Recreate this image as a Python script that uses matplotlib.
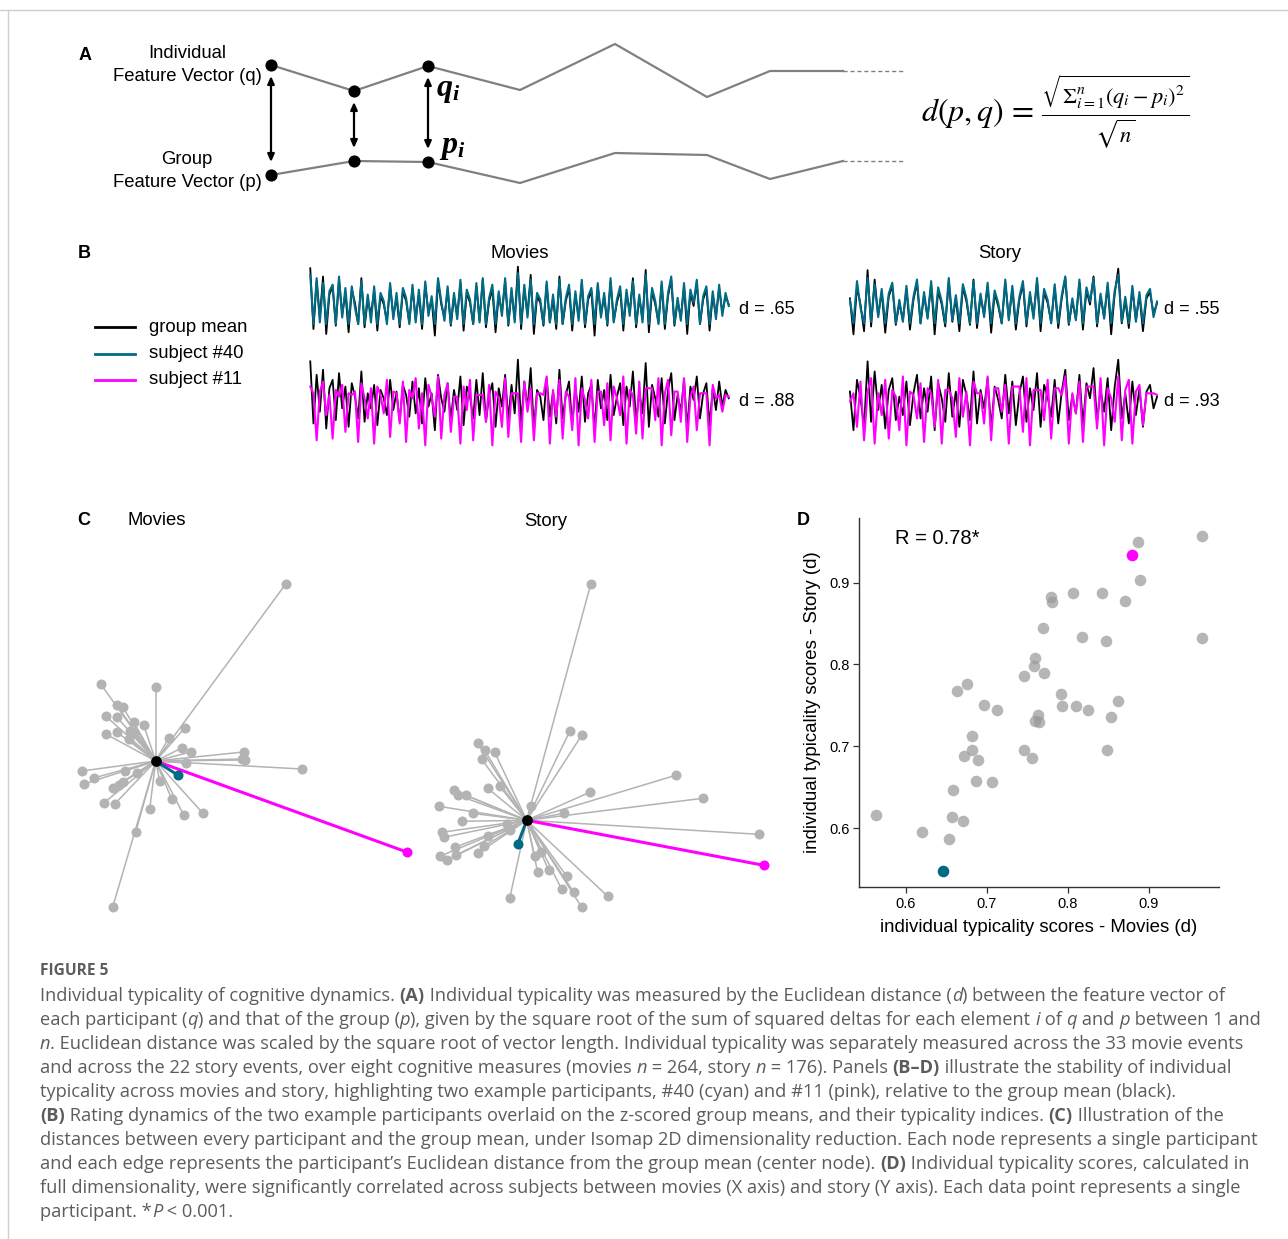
import numpy as np
import matplotlib
matplotlib.use('Agg')
import matplotlib.pyplot as plt
from matplotlib.lines import Line2D

# ---------------- DATA ----------------
# Panel A schematic feature vectors (element positions and values)
A_ELEM_X = [0.0, 8.3, 15.7, 24.9, 34.4, 43.6, 49.9, 57.2]
A_Q_VALS = [5.5, 2.9, 5.4, 3.0, 7.6, 2.3, 4.9, 4.9]
A_P_VALS = [-5.5, -4.1, -4.2, -6.3, -3.3, -3.5, -5.9, -4.1]
A_DASH_END = 63.2

# Panel B rating dynamics (z-scored)
GM_MOV = [2.4,-1.3,1.6,-0.6,1.9,-1.6,0.8,1.3,-1.1,1.7,-0.4,0.9,-1.5,1.1,0.3,-1.0,
          1.8,-1.2,0.5,-0.4,1.0,-1.4,0.7,0.2,-0.8,1.3,-0.5,0.6,-1.2,1.0,0.4,-0.9,
          1.2,-0.7,0.8,-1.3,1.4,-0.3,0.5,-1.7,1.6,0.2,-0.6,1.1,-1.1,0.7,-0.5,1.5,
          -1.4,0.9,0.3,-1.0,1.3,-0.8,1.7,-1.2,0.4,1.1,-1.5,0.8,-0.3,1.6,-1.1,1.0,
          -0.7,2.5,-1.3,1.2,-0.4,2.0,-1.6,0.7,0.3,-1.1,1.4,-0.9,0.6,-1.3,1.9,-1.0,
          0.4,1.2,-1.4,0.8,-0.6,1.5,-1.2,0.5,1.0,-1.7,1.3,-0.4,0.7,-1.1,1.6,-0.8,
          0.3,1.1,-1.4,0.9,-0.3,1.8,-1.2,0.6,-0.7,2.3,-1.5,1.0,0.2,-0.9,1.4,-1.3,
          0.7,1.7,-1.1,0.4,-0.6,1.3,-1.6,0.9,0.1,1.5,-1.0,0.5,1.1,-1.4,0.8,-0.5,
          1.2,-0.3,0.7,0.2]
S40_MOV = [2.0,-1.0,1.8,-0.9,1.5,-1.0,1.0,1.4,-1.0,1.9,-0.6,1.2,-1.0,1.3,0.0,-1.0,
           1.6,-1.0,0.8,-0.9,1.3,-1.0,0.9,0.4,-1.0,1.5,-0.7,0.9,-1.0,1.2,0.6,-1.0,
           1.4,-0.9,1.1,-1.0,1.6,-0.5,0.7,-1.0,1.8,0.4,-0.8,1.3,-1.0,0.9,-0.7,1.7,
           -1.0,1.1,0.5,-1.0,1.5,-0.9,1.8,-1.0,0.6,1.4,-1.0,1.0,-0.5,1.8,-1.0,1.2,
           -0.9,2.1,-1.0,1.4,-0.6,1.7,-1.0,0.9,0.5,-1.0,1.6,-0.9,0.8,-1.0,1.7,-1.0,
           0.6,1.4,-1.0,1.0,-0.8,1.7,-1.0,0.7,1.2,-1.0,1.5,-0.6,0.9,-1.0,1.8,-0.9,
           0.5,1.3,-1.0,1.1,-0.5,1.6,-1.0,0.8,-0.9,2.0,-1.0,1.2,0.4,-1.0,1.6,-1.0,
           0.9,1.9,-1.0,0.6,-0.8,1.5,-1.0,1.1,0.3,1.7,-1.0,0.7,1.3,-1.0,1.0,-0.7,
           1.4,-0.5,0.9,0.1]
S11_MOV = [0.9,0.5,-2.3,0.6,1.2,-0.8,0.4,-2.2,0.7,0.3,1.0,-1.8,0.5,0.4,0.6,-2.4,
           1.1,0.2,-1.0,0.8,-2.5,0.9,0.4,-0.7,1.3,-2.1,0.6,0.5,-1.3,1.2,-2.4,0.7,
           0.2,1.4,-1.6,0.5,-2.6,1.0,0.3,-0.9,1.5,-2.2,0.4,1.1,-1.8,0.3,0.3,-2.5,
           0.9,-0.5,1.3,-2.3,0.4,0.4,0.4,-1.2,1.0,-2.6,0.6,0.2,-1.5,1.4,-2.1,0.5,
           0.5,0.5,-2.4,1.2,-0.6,0.8,-2.3,0.5,0.5,0.4,1.5,-2.5,0.7,-0.9,1.3,-2.2,
           0.6,0.3,-1.7,1.4,-2.6,0.8,0.1,-1.0,1.3,-2.4,0.6,0.6,-1.4,1.1,-2.3,0.9,
           0.2,-0.8,1.5,-2.5,0.7,0.4,-1.9,1.2,-2.2,0.8,0.8,0.8,-1.1,1.4,-2.6,0.5,
           1.3,-2.0,0.6,0.6,-1.2,1.4,-2.4,0.3,0.9,-1.7,0.5,0.5,0.5,-2.6,1.0,0.2,
           0.4,-0.6,0.4,0.3]
GM_STO = [0.6,-1.7,1.3,0.2,-1.5,2.4,-1.2,1.8,-0.5,1.0,-1.6,0.7,1.4,-1.1,0.3,-0.8,
          1.2,-1.4,0.5,1.6,-1.0,0.8,-0.6,1.5,-1.7,1.1,0.2,-1.2,1.7,-0.9,0.6,-1.5,
          1.3,0.4,-1.1,1.8,-1.3,0.7,-0.4,1.4,-1.6,0.9,0.1,-1.0,1.6,-0.7,1.2,-1.4,
          0.5,1.5,-1.2,0.8,-0.5,1.7,-1.5,1.0,0.3,-0.9,1.3,-1.3,0.6,1.9,-1.1,0.4,
          -0.7,1.6,-1.4,1.1,0.2,2.0,-1.2,0.7,-0.6,1.4,-1.7,0.9,2.5,-1.0,0.5,-1.3,
          1.2,-0.8,0.8,-1.5,0.6,1.0,-0.4,0.3]
S40_STO = [0.5,-1.0,1.7,0.0,-1.0,1.9,-0.9,1.5,-0.6,1.2,-1.0,0.9,1.6,-1.0,0.5,-0.9,
           1.4,-1.0,0.7,1.8,-1.0,1.0,-0.7,1.7,-1.0,1.3,0.4,-1.0,1.9,-0.8,0.8,-1.0,
           1.5,0.6,-1.0,1.7,-1.0,0.9,-0.6,1.6,-1.0,1.1,0.3,-1.0,1.8,-0.8,1.4,-1.0,
           0.7,1.7,-1.0,1.0,-0.7,1.9,-1.0,1.2,0.5,-1.0,1.5,-1.0,0.8,2.0,-1.0,0.6,
           -0.8,1.8,-1.0,1.3,0.4,1.9,-1.0,0.9,-0.7,1.6,-1.0,1.1,2.1,-0.9,0.7,-1.0,
           1.4,-0.9,1.0,-1.0,0.8,1.2,-0.6,0.4]
S11_STO = [0.0,0.5,-1.5,1.2,-2.3,0.6,1.4,-2.5,0.5,-0.8,1.3,-2.2,0.7,0.3,-1.7,1.5,
           -2.6,0.6,0.4,-1.0,1.1,-2.4,0.8,0.5,-1.5,1.3,-2.5,0.7,0.7,0.2,-2.1,1.4,
           -0.9,0.6,-2.6,1.2,0.5,0.5,-1.3,1.5,-2.3,0.8,0.8,-0.6,1.0,-2.5,0.9,0.9,
           0.9,-1.8,1.4,-2.6,0.7,0.7,0.7,-1.1,1.3,-2.2,0.8,0.8,0.4,1.5,-2.5,0.5,
           -0.7,1.2,-2.4,0.9,0.9,0.9,-1.6,1.4,-2.6,0.8,0.2,-1.2,1.5,-2.3,0.7,1.3,
           -2.5,0.6,1.0,-1.4,0.5,0.5,0.5,0.4]
D_LABELS = {'mov40': 'd = .65', 'mov11': 'd = .88', 'sto40': 'd = .55', 'sto11': 'd = .93'}
LEGEND_LABELS = ['group mean', 'subject #40', 'subject #11']

# Panel C Isomap 2D coordinates relative to group mean
C_MOV_X = [1.30,-0.55,0.00,-0.39,-0.33,-0.50,-0.39,-0.22,-0.12,0.29,-0.39,-0.26,-0.22,-0.50,
           -0.27,0.13,0.26,0.35,0.88,0.86,0.89,0.30,1.46,-0.74,-0.31,-0.62,-0.72,-0.19,
           -0.33,-0.37,-0.43,0.04,-0.52,-0.41,-0.06,0.16,0.28,0.47,-0.20,-0.43]
C_MOV_Y = [1.77,0.77,0.74,0.56,0.54,0.45,0.44,0.39,0.36,0.33,0.29,0.30,0.28,0.27,
           0.22,0.23,0.13,0.09,0.09,0.02,0.01,-0.02,-0.08,-0.10,-0.10,-0.17,-0.23,-0.12,
           -0.21,-0.24,-0.27,-0.20,-0.42,-0.43,-0.48,-0.38,-0.54,-0.52,-0.71,-1.46]
C_MOV_S40 = (0.22, -0.14)
C_MOV_S11 = (2.51, -0.91)
C_STO_X = [0.64,0.43,0.55,-0.49,-0.42,-0.32,-0.45,1.49,-0.39,-0.27,-0.73,-0.69,-0.61,0.63,
           1.76,-0.88,-0.54,0.04,0.37,-0.65,-0.20,2.32,-0.85,-0.83,-0.17,-0.39,-0.72,-0.71,
           -0.43,-0.49,-0.87,-0.80,0.08,0.14,0.11,0.22,0.40,0.35,0.47,0.55,0.81,-0.17]
C_STO_Y = [2.36,0.89,0.85,0.77,0.70,0.68,0.61,0.45,0.32,0.34,0.30,0.25,0.25,0.28,
           0.22,0.14,0.07,0.14,0.07,-0.01,-0.04,-0.14,-0.12,-0.17,-0.10,-0.16,-0.27,-0.35,
           -0.26,-0.33,-0.36,-0.40,-0.36,-0.32,-0.52,-0.50,-0.56,-0.69,-0.72,-0.87,-0.76,-0.78]
C_STO_S40 = (-0.09, -0.24)
C_STO_S11 = (2.37, -0.45)

# Panel D typicality scores
D_MOVIES = [0.966,0.887,0.889,0.807,0.842,0.779,0.780,0.871,0.770,0.818,0.847,0.966,0.760,
            0.758,0.746,0.771,0.676,0.663,0.696,0.713,0.792,0.793,0.810,0.825,0.862,0.853,
            0.763,0.759,0.765,0.682,0.682,0.672,0.689,0.746,0.756,0.848,0.687,0.707,0.658,
            0.657,0.671,0.563,0.620,0.653]
D_STORY = [0.957,0.950,0.903,0.887,0.887,0.883,0.876,0.878,0.845,0.834,0.829,0.832,0.808,
           0.798,0.786,0.789,0.776,0.768,0.751,0.744,0.764,0.749,0.749,0.744,0.755,0.736,
           0.738,0.731,0.730,0.713,0.696,0.688,0.683,0.695,0.686,0.696,0.658,0.656,0.646,
           0.613,0.609,0.616,0.595,0.587]
D_S40 = (0.646, 0.547)
D_S11 = (0.879, 0.934)
D_TICKS = [0.6, 0.7, 0.8, 0.9]

CAPTION_TITLE = 'FIGURE 5'
CAPTION_LINES = [
    [('Individual typicality of cognitive dynamics. ', 'n'), ('(A)', 'b'),
     (' Individual typicality was measured by the Euclidean distance (', 'n'), ('d', 'i'),
     (') between the feature vector of', 'n')],
    [('each participant (', 'n'), ('q', 'i'), (') and that of the group (', 'n'), ('p', 'i'),
     ('), given by the square root of the sum of squared deltas for each element ', 'n'), ('i', 'i'),
     (' of ', 'n'), ('q', 'i'), (' and ', 'n'), ('p', 'i'), (' between 1 and', 'n')],
    [('n', 'i'), ('. Euclidean distance was scaled by the square root of vector length. Individual typicality was separately measured across the 33 movie events', 'n')],
    [('and across the 22 story events, over eight cognitive measures (movies ', 'n'), ('n', 'i'),
     (' = 264, story ', 'n'), ('n', 'i'), (' = 176). Panels ', 'n'), ('(B\u2013D)', 'b'),
     (' illustrate the stability of individual', 'n')],
    [('typicality across movies and story, highlighting two example participants, #40 (cyan) and #11 (pink), relative to the group mean (black).', 'n')],
    [('(B)', 'b'), (' Rating dynamics of the two example participants overlaid on the z-scored group means, and their typicality indices. ', 'n'),
     ('(C)', 'b'), (' Illustration of the', 'n')],
    [('distances between every participant and the group mean, under Isomap 2D dimensionality reduction. Each node represents a single participant', 'n')],
    [('and each edge represents the participant\u2019s Euclidean distance from the group mean (center node). ', 'n'),
     ('(D)', 'b'), (' Individual typicality scores, calculated in', 'n')],
    [('full dimensionality, were significantly correlated across subjects between movies (X axis) and story (Y axis). Each data point represents a single', 'n')],
    [('participant. *', 'n'), ('P', 'i'), (' < 0.001.', 'n')],
]

# ---------------- STYLE ----------------
TEAL = '#006b85'
MAGENTA = '#ff00ff'
GRAY = '#b3b3b3'
LAB = 13.3

plt.rcParams['font.family'] = ['Liberation Sans', 'DejaVu Sans']
plt.rcParams['mathtext.fontset'] = 'custom'
plt.rcParams['mathtext.it'] = 'Liberation Serif:italic:bold'
plt.rcParams['mathtext.rm'] = 'Liberation Serif:bold'

W, H = 1288, 1239
fig = plt.figure(figsize=(W / 100, H / 100), dpi=100)


def ax_px(x0, y0, x1, y1):
    return fig.add_axes([x0 / W, 1 - y1 / H, (x1 - x0) / W, (y1 - y0) / H])


def ftext(x, y, s, **kw):
    return fig.text(x / W, 1 - y / H, s, **kw)


# frame lines
fig.add_artist(Line2D([0, 1], [1 - 10 / H, 1 - 10 / H], color='#cfcfcf', lw=1.0))
fig.add_artist(Line2D([8 / W, 8 / W], [0, 1 - 10 / H], color='#cfcfcf', lw=1.0))

# ---------------- PANEL A ----------------
axA = ax_px(261, 30, 913, 200)
axA.set_xlim(-1.0, 64.2)
axA.set_ylim(-8.0, 9.0)
axA.axis('off')
axA.plot(A_ELEM_X, A_Q_VALS, color='#808080', lw=1.6, zorder=1)
axA.plot(A_ELEM_X, A_P_VALS, color='#808080', lw=1.6, zorder=1)
axA.plot([A_ELEM_X[-1], A_DASH_END], [A_Q_VALS[-1], A_Q_VALS[-1]], color='#808080', lw=1.0, ls=(0, (3, 2)))
axA.plot([A_ELEM_X[-1], A_DASH_END], [A_P_VALS[-1], A_P_VALS[-1]], color='#808080', lw=1.0, ls=(0, (3, 2)))
axA.scatter(A_ELEM_X[:3], A_Q_VALS[:3], s=60, color='black', zorder=3)
axA.scatter(A_ELEM_X[:3], A_P_VALS[:3], s=60, color='black', zorder=3)
for i in range(3):
    axA.annotate('', xy=(A_ELEM_X[i], A_P_VALS[i] + 1.3), xytext=(A_ELEM_X[i], A_Q_VALS[i] - 1.1),
                 arrowprops=dict(arrowstyle='<|-|>,head_length=0.45,head_width=0.2', lw=1.6, color='black',
                                 shrinkA=0, shrinkB=0))
axA.text(A_ELEM_X[2] + 0.8, A_Q_VALS[2] - 2.4, r'$q_i$', fontsize=23, math_fontfamily='custom', va='center')
axA.text(A_ELEM_X[2] + 1.1, A_P_VALS[2] + 1.5, r'$p_i$', fontsize=23, math_fontfamily='custom', va='center')

ftext(85, 55, 'A', fontsize=13, fontweight='bold', ha='center', va='center')
ftext(187, 65, 'Individual\nFeature Vector (q)', fontsize=LAB, ha='center', va='center',
      multialignment='center', linespacing=1.4)
ftext(187, 171, 'Group\nFeature Vector (p)', fontsize=LAB, ha='center', va='center',
      multialignment='center', linespacing=1.4)
ftext(1055, 112, r'$d(p,q)\,=\,\frac{\sqrt{\Sigma_{i=1}^{n}(q_i-p_i)^2}}{\sqrt{n}}$', fontsize=23,
      math_fontfamily='stix', ha='center', va='center')

# ---------------- PANEL B ----------------
ftext(84, 253, 'B', fontsize=13, fontweight='bold', ha='center', va='center')
ftext(520, 253, 'Movies', fontsize=LAB, ha='center', va='center')
ftext(1000, 254, 'Story', fontsize=LAB, ha='center', va='center')


def series_ax(box, gm, subj, color):
    ax = ax_px(*box)
    ax.plot(np.linspace(0, 1, len(gm)), gm, color='black', lw=1.3)
    ax.plot(np.linspace(0, 1, len(subj)), subj, color=color, lw=1.5)
    ax.set_xlim(-0.003, 1.003)
    ax.set_ylim(-2.7, 2.6)
    ax.axis('off')
    return ax


series_ax((309, 265, 730, 352), GM_MOV, S40_MOV, TEAL)
series_ax((309, 358, 730, 447), GM_MOV, S11_MOV, MAGENTA)
series_ax((849, 267, 1158, 350), GM_STO, S40_STO, TEAL)
series_ax((849, 358, 1158, 447), GM_STO, S11_STO, MAGENTA)
ftext(739, 310, D_LABELS['mov40'], fontsize=13, va='center')
ftext(739, 401, D_LABELS['mov11'], fontsize=13, va='center')
ftext(1164, 310, D_LABELS['sto40'], fontsize=13, va='center')
ftext(1164, 401, D_LABELS['sto11'], fontsize=13, va='center')

for k, (lab, col) in enumerate(zip(LEGEND_LABELS, ['black', TEAL, MAGENTA])):
    yy = 327 + 26.5 * k
    fig.add_artist(Line2D([95 / W, 135 / W], [1 - yy / H, 1 - yy / H], color=col, lw=2.0))
    ftext(149, yy, lab, fontsize=LAB, va='center')

# ---------------- PANEL C ----------------
ftext(84, 521, 'C', fontsize=13, fontweight='bold', ha='center', va='center')
ftext(157, 521, 'Movies', fontsize=LAB, ha='center', va='center')
ftext(546, 522, 'Story', fontsize=LAB, ha='center', va='center')


def network(box, xlim, ylim, xs, ys, s40, s11):
    ax = ax_px(*box)
    ax.set_xlim(*xlim)
    ax.set_ylim(*ylim)
    ax.axis('off')
    for x, y in zip(xs, ys):
        ax.plot([0, x], [0, y], color=GRAY, lw=1.1, zorder=1)
    ax.scatter(xs, ys, s=52, color=GRAY, zorder=2, linewidths=0)
    ax.plot([0, s11[0]], [0, s11[1]], color=MAGENTA, lw=2.2, zorder=3)
    ax.scatter([s11[0]], [s11[1]], s=52, color=MAGENTA, zorder=4, linewidths=0)
    ax.plot([0, s40[0]], [0, s40[1]], color=TEAL, lw=2.2, zorder=3)
    ax.scatter([s40[0]], [s40[1]], s=52, color=TEAL, zorder=4, linewidths=0)
    ax.scatter([0], [0], s=60, color='black', zorder=5, linewidths=0)


network((60, 560, 420, 920), (-0.957, 2.643), (-1.59, 2.01), C_MOV_X, C_MOV_Y, C_MOV_S40, C_MOV_S11)
network((420, 560, 790, 920), (-1.067, 2.633), (-0.997, 2.603), C_STO_X, C_STO_Y, C_STO_S40, C_STO_S11)

# ---------------- PANEL D ----------------
ftext(803, 521, 'D', fontsize=13, fontweight='bold', ha='center', va='center')
axD = ax_px(859, 518, 1219, 887)
axD.scatter(D_MOVIES, D_STORY, s=70, color='#9a9a9a', alpha=0.72, linewidths=0, zorder=2)
axD.scatter([D_S11[0]], [D_S11[1]], s=70, color=MAGENTA, linewidths=0, zorder=3)
axD.scatter([D_S40[0]], [D_S40[1]], s=70, color=TEAL, linewidths=0, zorder=3)
axD.set_xlim(0.542, 0.987)
axD.set_ylim(0.528, 0.979)
axD.set_xticks(D_TICKS)
axD.set_yticks(D_TICKS)
axD.set_xticklabels([f'{t:.1f}' for t in D_TICKS])
axD.set_yticklabels([f'{t:.1f}' for t in D_TICKS])
for sp in ['top', 'right']:
    axD.spines[sp].set_visible(False)
for sp in ['left', 'bottom']:
    axD.spines[sp].set_color('#333333')
    axD.spines[sp].set_linewidth(1.0)
axD.tick_params(labelsize=10.5, length=4, width=0.9, color='#333333', pad=3)
axD.set_xlabel('individual typicality scores - Movies (d)', fontsize=13.4, labelpad=6)
axD.set_ylabel('individual typicality scores - Story (d)', fontsize=13.4, labelpad=6)
axD.text(0.10, 0.945, 'R = 0.78*', transform=axD.transAxes, fontsize=14.5, va='center')

# ---------------- CAPTION ----------------
CAP_FONT = ['Open Sans', 'DejaVu Sans']
CAP_COLOR = '#5c5c5c'
fig.canvas.draw()
renderer = fig.canvas.get_renderer()


def run_width(s, st, size):
    kw = dict(fontsize=size, family=CAP_FONT,
              fontweight='bold' if st == 'b' else 'normal',
              fontstyle='italic' if st == 'i' else 'normal')
    t1 = fig.text(0, 0, 'x' + s + 'x', **kw)
    t2 = fig.text(0, 0, 'xx', **kw)
    w = t1.get_window_extent(renderer).width - t2.get_window_extent(renderer).width
    t1.remove()
    t2.remove()
    return w


base = 12.0
w2 = sum(run_width(s, st, base) for s, st in CAPTION_LINES[1])
cap_size = base * 1218.0 / w2

ftext(40, 975, CAPTION_TITLE, fontsize=cap_size * 0.85, family=CAP_FONT, fontweight='bold',
      color=CAP_COLOR, va='baseline')
for li, runs in enumerate(CAPTION_LINES):
    y = 1001 + 24 * li
    x = 40.0
    for s, st in runs:
        fig.text(x / W, 1 - y / H, s, fontsize=cap_size, family=CAP_FONT, color=CAP_COLOR,
                 fontweight='bold' if st == 'b' else 'normal',
                 fontstyle='italic' if st == 'i' else 'normal', va='baseline', ha='left')
        x += run_width(s, st, cap_size)

fig.savefig('out.png', dpi=100)
